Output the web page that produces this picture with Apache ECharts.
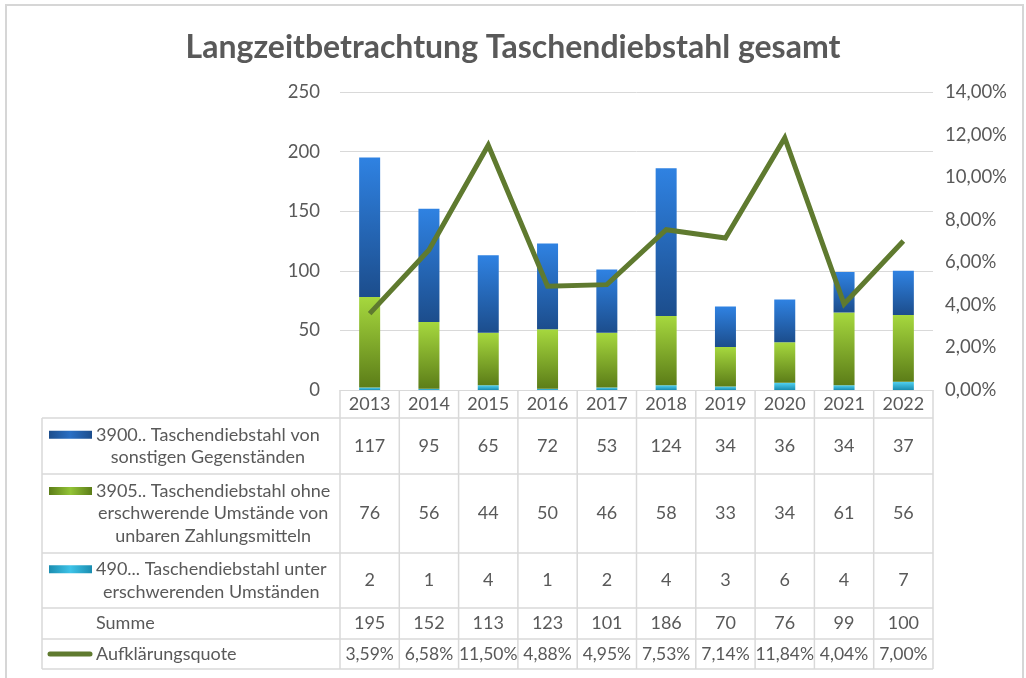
<!DOCTYPE html>
<html>
<head>
<meta charset="utf-8">
<script src="https://cdn.jsdelivr.net/npm/echarts@6/dist/echarts.min.js"></script>
<style>
html,body{margin:0;padding:0;background:#fff;}
#c{width:1026px;height:678px;}
</style>
</head>
<body>
<div id="c"></div>
<script>
// ---- data ----
var years = ['2013','2014','2015','2016','2017','2018','2019','2020','2021','2022'];
var sonstige = [117,95,65,72,53,124,34,36,34,37];
var ohne = [76,56,44,50,46,58,33,34,61,56];
var unter = [2,1,4,1,2,4,3,6,4,7];
var summe = [195,152,113,123,101,186,70,76,99,100];
var quote = [3.59,6.58,11.50,4.88,4.95,7.53,7.14,11.84,4.04,7.00];
var seriesNames = [
  '3900.. Taschendiebstahl von\nsonstigen Gegenständen',
  '3905.. Taschendiebstahl ohne\nerschwerende Umstände von\nunbaren Zahlungsmitteln',
  '490... Taschendiebstahl unter\nerschwerenden Umständen',
  'Summe',
  'Aufklärungsquote'
];
var title = 'Langzeitbetrachtung Taschendiebstahl gesamt';

// ---- style ----
var FONT = 'Lato, "Open Sans", sans-serif';
var TXT = '#595959';
var GRIDC = '#d9d9d9';
var LINEC = '#5f7a2f';
function vgrad(top, bottom){
  return new echarts.graphic.LinearGradient(0,0,0,1,[{offset:0,color:top},{offset:1,color:bottom}]);
}
function hgrad(c0,c1,c2){
  return new echarts.graphic.LinearGradient(0,0,1,0,[{offset:0,color:c0},{offset:0.5,color:c1},{offset:1,color:c2}]);
}
var blueG = vgrad('#2f82e2','#1c4d8c');
var greenG = vgrad('#a6d83e','#5c7d18');
var cyanG = vgrad('#52d2f2','#1a8db0');

function fmtPct(v){ return v.toFixed(2).replace('.', ',') + '%'; }

var chart = echarts.init(document.getElementById('c'));
var AX = 18.5;
var option = {
  backgroundColor:'#fff',
  animation:false,
  title:{text:title,left:'center',top:27,textStyle:{fontFamily:FONT,fontWeight:'bold',fontSize:32,color:TXT}},
  grid:{left:340,right:93,top:92,bottom:288},
  xAxis:{type:'category',data:years,
    axisLine:{lineStyle:{color:GRIDC,width:1}},
    axisTick:{show:false},
    axisLabel:{fontFamily:FONT,fontSize:18,color:TXT,margin:5}},
  yAxis:[
    {type:'value',min:0,max:250,interval:50,
      axisLine:{show:false},axisTick:{show:false},
      splitLine:{lineStyle:{color:GRIDC,width:1}},
      axisLabel:{fontFamily:FONT,fontSize:AX,color:TXT,margin:20}},
    {type:'value',min:0,max:0.14,interval:0.02,position:'right',
      axisLine:{show:false},axisTick:{show:false},splitLine:{show:false},
      axisLabel:{fontFamily:FONT,fontSize:AX,color:TXT,margin:12,formatter:function(v){return fmtPct(v*100);}}}
  ],
  series:[
    {name:'unter',type:'bar',stack:'s',data:unter,barWidth:21,itemStyle:{color:cyanG}},
    {name:'ohne',type:'bar',stack:'s',data:ohne,barWidth:21,itemStyle:{color:greenG}},
    {name:'sonstige',type:'bar',stack:'s',data:sonstige,barWidth:21,itemStyle:{color:blueG}},
    {name:'quote',type:'line',yAxisIndex:1,data:quote.map(function(q){return q/100;}),
      symbol:'none',lineStyle:{color:LINEC,width:5,join:'miter'},itemStyle:{color:LINEC},z:5}
  ]
};
chart.setOption(option);

// ---- data table drawn from the axis scale ----
var x0 = chart.convertToPixel({xAxisIndex:0}, 0);
var x1 = chart.convertToPixel({xAxisIndex:0}, 1);
var bw = x1 - x0;
var leftX = 42, tableLeftCol = x0 - bw/2, tableRight = tableLeftCol + bw*years.length;
var rowY = [418, 474, 553, 608, 639, 669];
var headTop = 390;
var els = [];
// frame
els.push({type:'rect',shape:{x:6,y:5,width:1017,height:720},style:{fill:'none',stroke:'#d6d6d6',lineWidth:2},silent:true});
// horizontal lines
rowY.forEach(function(y){
  els.push({type:'line',shape:{x1:leftX,y1:y,x2:tableRight,y2:y},style:{stroke:GRIDC,lineWidth:1.5}});
});
// vertical lines
for (var i=0;i<=years.length;i++){
  var xx = tableLeftCol + bw*i;
  els.push({type:'line',shape:{x1:xx,y1:headTop,x2:xx,y2:rowY[rowY.length-1]},style:{stroke:GRIDC,lineWidth:1.5}});
}
els.push({type:'line',shape:{x1:leftX,y1:rowY[0],x2:leftX,y2:rowY[rowY.length-1]},style:{stroke:GRIDC,lineWidth:1.5}});

var rows = [sonstige.map(String), ohne.map(String), unter.map(String), summe.map(String), quote.map(fmtPct)];
var fs = 18, lh = 22.5;
var cv = document.createElement('canvas').getContext('2d');
cv.font = fs + 'px ' + FONT;
var keyFills = [hgrad('#1c4d8c','#2a6fc4','#1c4d8c'), hgrad('#5c7d18','#93c437','#5c7d18'), hgrad('#1a8db0','#3ec3e8','#1a8db0')];
var labelLeft = 96;
rows.forEach(function(vals, r){
  var yTop = rowY[r], yBot = rowY[r+1], yc = (yTop + yBot)/2;
  vals.forEach(function(v, c){
    els.push({type:'text',x:tableLeftCol + bw*c + bw/2, y:yc,
      style:{text:v,fontFamily:FONT,fontSize:(r===4?17.5:fs),fill:TXT,align:'center',verticalAlign:'middle'}});
  });
  var lines = seriesNames[r].split('\n');
  var maxW = 0;
  lines.forEach(function(l){ maxW = Math.max(maxW, cv.measureText(l).width); });
  var firstLineY = yc - (lines.length-1)*lh/2;
  els.push({type:'text',x:labelLeft + maxW/2, y:yc,
    style:{text:seriesNames[r],fontFamily:FONT,fontSize:fs,fill:TXT,align:'center',verticalAlign:'middle',lineHeight:lh}});
  if (r < 3){
    els.push({type:'rect',shape:{x:49,y:firstLineY-4,width:43,height:8},style:{fill:keyFills[r]}});
  } else if (r === 4){
    els.push({type:'line',shape:{x1:50,y1:yc,x2:90,y2:yc},style:{stroke:LINEC,lineWidth:5,lineCap:'round'}});
  }
});
chart.setOption({graphic:{elements:els}});
</script>
</body>
</html>
